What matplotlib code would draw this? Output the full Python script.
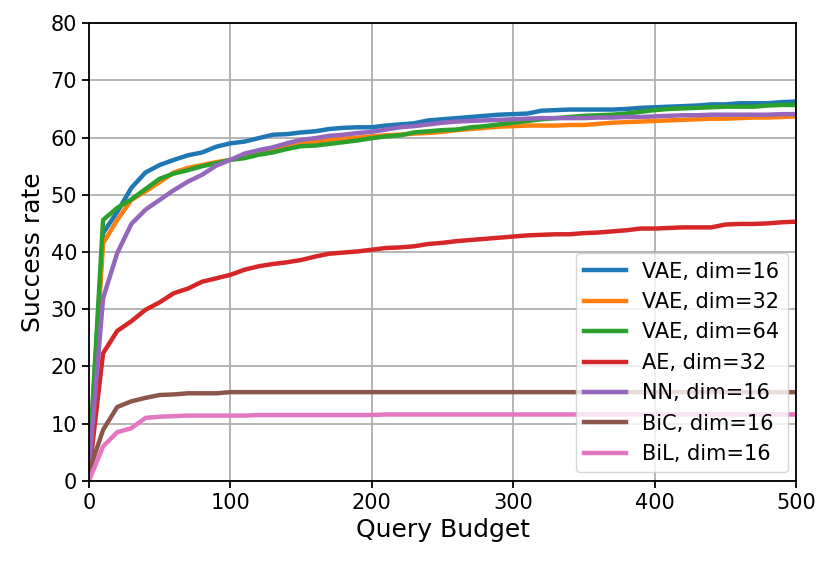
import numpy as np
import matplotlib
matplotlib.use("Agg")
import matplotlib.pyplot as plt

budget = list(range(0, 501, 10))

vae16 = [2.0, 43.3, 47.0, 51.2, 53.9, 55.2, 56.1, 56.9, 57.4, 58.4,
         59.0, 59.3, 59.9, 60.5, 60.6, 60.9, 61.1, 61.5, 61.7, 61.8,
         61.8, 62.1, 62.3, 62.5, 63.0, 63.2, 63.4, 63.6, 63.8, 64.0,
         64.1, 64.2, 64.7, 64.8, 64.9, 64.9, 64.9, 64.9, 65.0, 65.2,
         65.3, 65.4, 65.5, 65.6, 65.8, 65.8, 66.0, 66.0, 66.0, 66.2,
         66.3]
vae32 = [2.0, 41.5, 45.6, 49.1, 50.6, 52.2, 53.9, 54.7, 55.2, 55.7,
         56.1, 56.7, 57.3, 57.8, 58.5, 59.0, 59.3, 59.6, 59.8, 60.0,
         60.2, 60.4, 60.5, 60.7, 60.8, 61.0, 61.3, 61.5, 61.7, 61.9,
         62.0, 62.1, 62.1, 62.1, 62.2, 62.2, 62.4, 62.6, 62.7, 62.8,
         62.9, 63.0, 63.1, 63.2, 63.3, 63.3, 63.4, 63.5, 63.5, 63.6,
         63.7]
vae64 = [2.0, 45.6, 47.7, 49.2, 51.0, 52.8, 53.7, 54.3, 55.0, 55.5,
         56.1, 56.4, 57.0, 57.4, 58.0, 58.5, 58.6, 58.9, 59.2, 59.5,
         59.9, 60.2, 60.4, 60.9, 61.1, 61.3, 61.4, 61.8, 62.0, 62.3,
         62.6, 62.9, 63.2, 63.4, 63.6, 63.8, 63.9, 64.0, 64.2, 64.5,
         64.8, 65.0, 65.1, 65.2, 65.3, 65.4, 65.4, 65.4, 65.6, 65.7,
         65.7]
ae32 = [1.0, 22.3, 26.2, 27.9, 29.9, 31.2, 32.8, 33.6, 34.8, 35.4,
        36.0, 36.9, 37.5, 37.9, 38.2, 38.6, 39.2, 39.7, 39.9, 40.1,
        40.4, 40.7, 40.8, 41.0, 41.4, 41.6, 41.9, 42.1, 42.3, 42.5,
        42.7, 42.9, 43.0, 43.1, 43.1, 43.3, 43.4, 43.6, 43.8, 44.1,
        44.1, 44.2, 44.3, 44.3, 44.3, 44.8, 44.9, 44.9, 45.0, 45.2,
        45.3]
nn16 = [2.0, 31.9, 39.8, 44.9, 47.4, 49.1, 50.8, 52.3, 53.5, 55.1,
        56.1, 57.2, 57.8, 58.3, 59.0, 59.6, 59.9, 60.3, 60.5, 60.8,
        61.0, 61.4, 61.8, 62.0, 62.3, 62.6, 62.8, 62.9, 63.0, 63.1,
        63.2, 63.3, 63.4, 63.4, 63.4, 63.4, 63.5, 63.5, 63.6, 63.6,
        63.7, 63.8, 63.9, 63.9, 64.0, 64.0, 64.0, 64.0, 64.0, 64.1,
        64.1]
bic16 = [1.5, 8.9, 12.9, 13.9, 14.5, 15.0, 15.1, 15.3, 15.3, 15.3,
         15.5, 15.5, 15.5, 15.5, 15.5, 15.5, 15.5, 15.5, 15.5, 15.5,
         15.5, 15.5, 15.5, 15.5, 15.5, 15.5, 15.5, 15.5, 15.5, 15.5,
         15.5, 15.5, 15.5, 15.5, 15.5, 15.5, 15.5, 15.5, 15.5, 15.5,
         15.5, 15.5, 15.5, 15.5, 15.5, 15.5, 15.5, 15.5, 15.5, 15.5,
         15.5]
bil16 = [0.0, 6.0, 8.5, 9.2, 11.0, 11.2, 11.3, 11.4, 11.4, 11.4,
         11.4, 11.4, 11.5, 11.5, 11.5, 11.5, 11.5, 11.5, 11.5, 11.5,
         11.5, 11.6, 11.6, 11.6, 11.6, 11.6, 11.6, 11.6, 11.6, 11.6,
         11.6, 11.6, 11.6, 11.6, 11.6, 11.6, 11.6, 11.6, 11.6, 11.6,
         11.6, 11.6, 11.6, 11.6, 11.6, 11.6, 11.6, 11.6, 11.6, 11.6,
         11.6]

series = [
    ("VAE, dim=16", vae16),
    ("VAE, dim=32", vae32),
    ("VAE, dim=64", vae64),
    ("AE, dim=32", ae32),
    ("NN, dim=16", nn16),
    ("BiC, dim=16", bic16),
    ("BiL, dim=16", bil16),
]


def main():
    fig = plt.figure(figsize=(8.31, 5.65), dpi=100)
    ax = fig.add_axes([0.107, 0.149, 0.851, 0.810])

    for label, values in series:
        ax.plot(budget, values, linewidth=3.2, label=label)

    ax.set_xlim(0, 500)
    ax.set_ylim(0, 80)
    ax.set_xticks(np.arange(0, 501, 100))
    ax.set_yticks(np.arange(0, 81, 10))
    ax.tick_params(labelsize=15, width=1.3, length=5)
    for spine in ax.spines.values():
        spine.set_linewidth(1.3)
    ax.grid(True, color="#b0b0b0", linewidth=1.3)
    ax.set_xlabel("Query Budget", fontsize=18)
    ax.set_ylabel("Success rate", fontsize=18)
    ax.legend(loc="lower right", fontsize=15, borderaxespad=0.4)

    plt.savefig("out.png", dpi=100)
    plt.close()


if __name__ == "__main__":
    main()
